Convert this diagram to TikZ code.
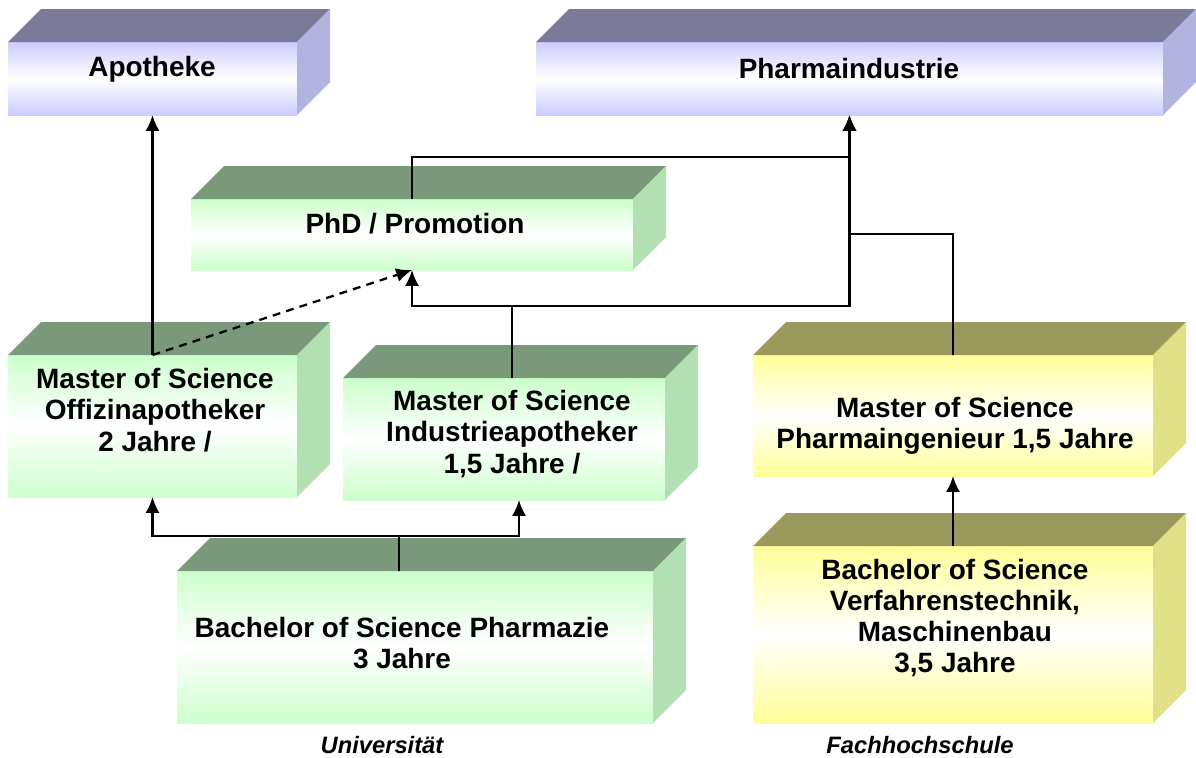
\documentclass[tikz,border=0pt]{standalone}
\usepackage{fontspec}
\setmainfont{Liberation Sans}
\usetikzlibrary{calc,arrows.meta}

\definecolor{lilaF}{RGB}{204,204,255}
\definecolor{lilaT}{RGB}{123,123,153}
\definecolor{lilaS}{RGB}{179,179,224}
\definecolor{gruenF}{RGB}{204,255,204}
\definecolor{gruenT}{RGB}{122,153,122}
\definecolor{gruenS}{RGB}{179,224,179}
\definecolor{gelbF}{RGB}{255,255,153}
\definecolor{gelbT}{RGB}{153,153,92}
\definecolor{gelbS}{RGB}{224,224,134}

% top face and right face behind a front node
\newcommand{\quader}[3]{%
  \fill[#2] (#1.north west) -- ++(0.66,0.66) -- ($(#1.north east)+(0.66,0.66)$) -- (#1.north east) -- cycle;
  \fill[#3] (#1.north east) -- ++(0.66,0.66) -- ($(#1.south east)+(0.66,0.66)$) -- (#1.south east) -- cycle;
}

\begin{document}
\begin{tikzpicture}[
front/.style={
  draw=none,
  inner sep=0pt,
  outer sep=0pt
  },
lila/.style={top color=lilaF, bottom color=lilaF, middle color=white},
gruen/.style={top color=gruenF, bottom color=gruenF, middle color=white},
gelb/.style={top color=gelbF, bottom color=gelbF, middle color=white},
txt/.style={font=\fontsize{15.9}{17.8}\selectfont\bfseries, align=center},
ort/.style={font=\fontsize{13.5}{16}\selectfont\bfseries\itshape},
verb/.style={line width=1.3pt},
>={Latex[length=9pt,width=8pt]}
]
\useasboundingbox (0,0) rectangle (23.92,-15.14);

% Ziele
\node[front, lila, minimum width=5.78cm, minimum height=1.46cm] (apo) at (3.05,-1.57) {};
\quader{apo}{lilaT}{lilaS}
\node[front, lila, minimum width=12.54cm, minimum height=1.46cm] (pharma) at (16.99,-1.57) {};
\quader{pharma}{lilaT}{lilaS}

% Universitaet
\node[front, gruen, minimum width=8.84cm, minimum height=1.42cm] (phd) at (8.24,-4.69) {};
\quader{phd}{gruenT}{gruenS}
\node[front, gruen, minimum width=5.78cm, minimum height=2.84cm] (off) at (3.05,-8.52) {};
\quader{off}{gruenT}{gruenS}
\node[front, gruen, minimum width=6.44cm, minimum height=2.44cm] (ind) at (10.08,-8.78) {};
\quader{ind}{gruenT}{gruenS}
\node[front, gruen, minimum width=9.52cm, minimum height=3.04cm] (bph) at (8.30,-12.94) {};
\quader{bph}{gruenT}{gruenS}

% Fachhochschule
\node[front, gelb, minimum width=8cm, minimum height=2.42cm] (ing) at (19.06,-8.31) {};
\quader{ing}{gelbT}{gelbS}
\node[front, gelb, minimum width=8cm, minimum height=3.54cm] (bfh) at (19.06,-12.69) {};
\quader{bfh}{gelbT}{gelbS}

% Beschriftung
\node[txt] (apoT) at (3.04,-1.38) {Apotheke};
\node[txt] (pharmaT) at (16.98,-1.38) {Pharmaindustrie};
\node[txt] (phdT) at (8.30,-4.47) {PhD / Promotion};
\node[txt] (offT) at (3.10,-8.20) {Master of Science\\Offizinapotheker\\2 Jahre /};
\node[txt] (indT) at (10.24,-8.68) {Master of Science\\Industrieapotheker\\1,5 Jahre /};
\node[txt] (ingT) at (19.10,-8.52) {Master of Science\\Pharmaingenieur 1,5 Jahre};
\node[txt] (bphT) at (8.04,-12.86) {Bachelor of Science Pharmazie\\3 Jahre};
\node[txt] (bfhT) at (19.10,-12.36) {Bachelor of Science\\Verfahrenstechnik,\\Maschinenbau\\3,5 Jahre};
\node[ort] (uni) at (7.64,-14.90) {Universität};
\node[ort] (fh) at (18.40,-14.90) {Fachhochschule};

% Verbindungen
\coordinate (indtop) at ($(ind.north)+(0.16,0)$);
\coordinate (indin) at ($(ind.south)+(0.30,0)$);
\coordinate (bphtop) at ($(bph.north)+(-0.32,0)$);

\draw[verb,->] (off.north) -- (apo.south);
\draw[verb,->,dash pattern=on 4.5pt off 3.5pt] (off.north) -- (phd.south);
\draw[verb,->] (indtop) |- ($(phd.south)+(0,-0.72)$) -- (phd.south);
\draw[verb,->] (indtop) |- ($(pharma.south)+(0,-3.82)$) -- (pharma.south);
\draw[verb,->] (ing.north) |- ($(pharma.south)+(0,-2.38)$) -- (pharma.south);
\draw[verb,->] (phd.north) |- ($(pharma.south)+(0,-0.84)$) -- (pharma.south);
\draw[verb,->] (bphtop) |- ($(off.south)+(0,-0.78)$) -- (off.south);
\draw[verb,->] (bphtop) |- ($(indin)+(0,-0.72)$) -- (indin);
\draw[verb,->] (bfh.north) -- (ing.south);
\end{tikzpicture}
\end{document}
